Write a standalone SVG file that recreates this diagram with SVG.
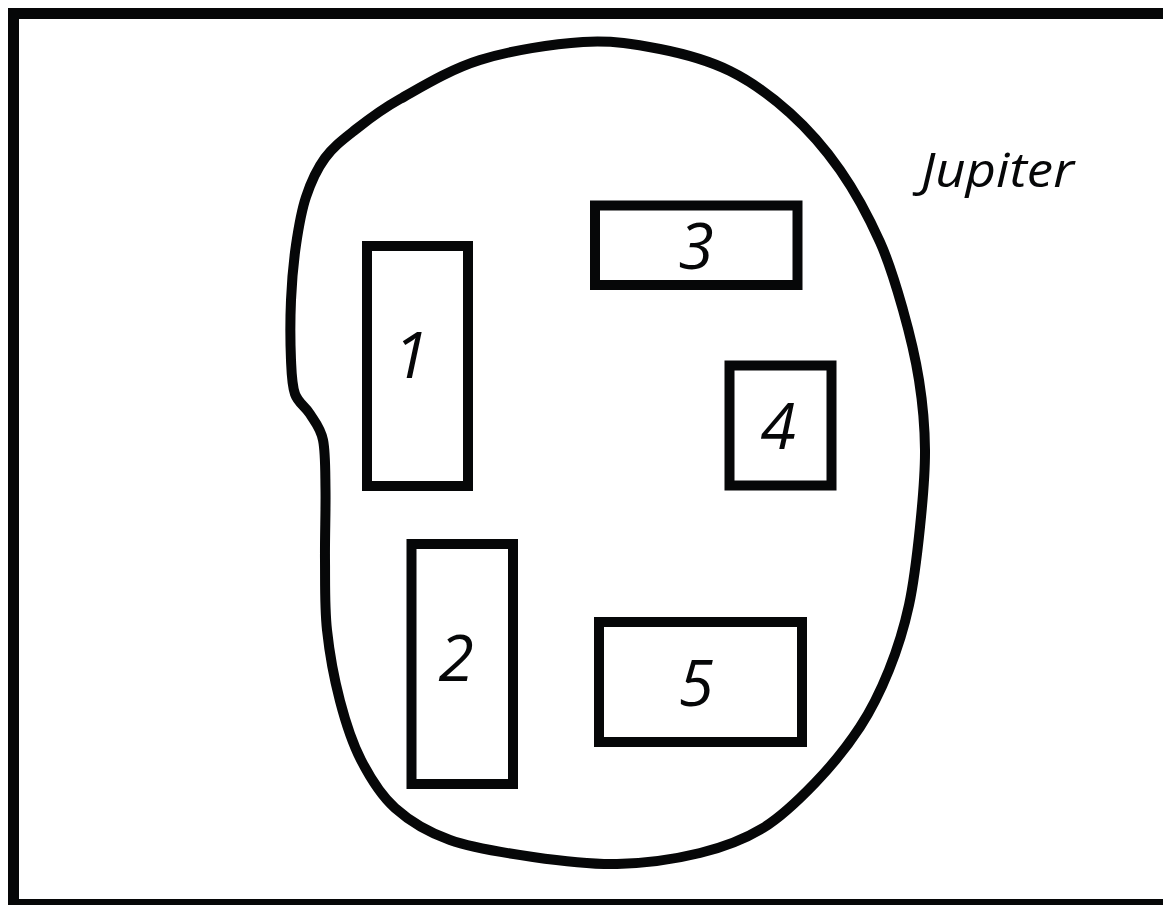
<svg xmlns="http://www.w3.org/2000/svg" width="1163" height="905" viewBox="0 0 1163 905">
<style>
.ln{fill:none;stroke:#060708;stroke-width:10;}
.lbl{font-family:"Open Sans","Noto Sans",sans-serif;font-style:italic;font-size:64px;fill:#060708;text-anchor:middle;}
.title{font-family:"Open Sans","Noto Sans",sans-serif;font-style:italic;font-size:47px;fill:#060708;}
</style>
<rect x="0" y="0" width="1163" height="905" fill="#ffffff"/>
<rect id="frame" x="13.5" y="13.5" width="1170" height="891" fill="none" stroke="#060708" stroke-width="11"/>
<g id="jupiter">
<path class="ln" d="M583,42 C613,40.17 635.5,44.17 660,49 C684.5,53.83 708.33,60.33 730,71 C751.67,81.67 771.67,96.5 790,113 C808.33,129.5 825,148.5 840,170 C855,191.5 869.5,218.67 880,242 C890.5,265.33 896.5,287 903,310 C909.5,333 915.33,356.67 919,380 C922.67,403.33 924.83,425.5 925,450 C925.17,474.5 922.67,501.17 920,527 C917.33,552.83 914.17,581.17 909,605 C903.83,628.83 897.17,649.67 889,670 C880.83,690.33 872.33,708.17 860,727 C847.67,745.83 831.17,766.17 815,783 C798.83,799.83 782.17,816.33 763,828 C743.83,839.67 724.33,847 700,853 C675.67,859 644.83,863.33 617,864 C589.17,864.67 560.83,861 533,857 C505.17,853 473,848.17 450,840 C427,831.83 409.83,821.33 395,808 C380.17,794.67 370.17,777.83 361,760 C351.83,742.17 345.67,722.67 340,701 C334.33,679.33 329.5,653.5 327,630 C324.5,606.5 325.25,583.33 325,560 C324.75,536.67 325.83,510 325.5,490 C325.17,470 325.58,452.67 323,440 C320.42,427.33 314.67,421.67 310,414 C305.33,406.33 298.17,403 295,394 C291.83,385 291.67,375.67 291,360 C290.33,344.33 290.17,319.17 291,300 C291.83,280.83 293.5,262.17 296,245 C298.5,227.83 301.17,211.5 306,197 C310.83,182.5 316.83,169.17 325,158 C333.17,146.83 342.5,139.83 355,130 C367.5,120.17 379.17,110.67 400,99 C420.83,87.33 449.5,69.5 480,60 C510.5,50.5 553,43.83 583,42 Z"/>
<text class="title" x="921" y="187" textLength="153" lengthAdjust="spacingAndGlyphs">Jupiter</text>
</g>
<g id="node1"><rect class="ln" x="367" y="246" width="101" height="240"/><text class="lbl" x="411" y="378">1</text></g>
<g id="node2"><rect class="ln" x="411.5" y="544" width="101.5" height="240"/><text class="lbl" x="456" y="681">2</text></g>
<g id="node3"><rect class="ln" x="595" y="205.5" width="202.5" height="79.5"/><text class="lbl" x="696" y="269">3</text></g>
<g id="node4"><rect class="ln" x="729.5" y="365.5" width="102" height="120"/><text class="lbl" x="778" y="449">4</text></g>
<g id="node5"><rect class="ln" x="599" y="622" width="203" height="120"/><text class="lbl" x="696" y="706">5</text></g>
<g id="connectors"></g>
</svg>
